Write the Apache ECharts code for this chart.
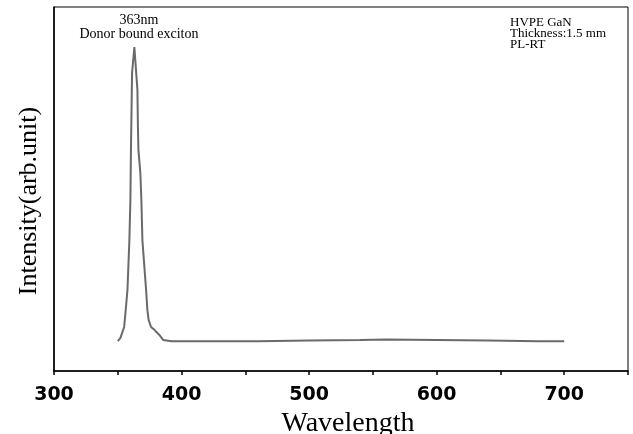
<!DOCTYPE html>
<html>
<head>
<meta charset="utf-8">
<script src="https://cdn.jsdelivr.net/npm/echarts@6/dist/echarts.min.js"></script>
<style>
html,body{margin:0;padding:0;background:#fff;}
#chart{width:633px;height:434px;}
</style>
</head>
<body>
<div id="chart"></div>
<script>
// Wavelength (nm)
var wavelength = [350, 352.1, 355, 356, 357.6, 359.1, 359.9, 360.3, 360.7, 361.2, 363,
  365.4, 365.8, 366.2, 367.7, 368.5, 369.3, 372.2, 373.2, 374.2, 376.1, 378.7, 380.3,
  382.6, 385.7, 392, 420, 460, 500, 540, 560, 600, 640, 680, 700];
// PL intensity (arb. unit)
var intensity = [8.2, 9.1, 12.1, 15.9, 22.3, 36, 47, 59.9, 69.8, 81.9, 89,
  77.2, 66.8, 60.7, 54.4, 47, 36, 22.3, 16.8, 14, 12.1, 11.3, 10.7,
  9.9, 8.5, 8.2, 8.15, 8.2, 8.35, 8.5, 8.62, 8.55, 8.4, 8.2, 8.15];
var xTicks = [300, 400, 500, 600, 700];
var peakNote = ['363nm', 'Donor bound exciton'];
var sampleNote = ['HVPE GaN', 'Thickness:1.5 mm', 'PL-RT'];

var pts = wavelength.map(function (w, i) { return [w, intensity[i]]; });

var chart = echarts.init(document.getElementById('chart'), null, {renderer: 'canvas'});
chart.setOption({
  animation: false,
  backgroundColor: '#fff',
  grid: {left: 54, right: 5, top: 7, bottom: 63, show: true, borderColor: '#000', borderWidth: 1,
    containLabel: false, outerBoundsMode: 'none'},
  xAxis: {
    type: 'value', min: 300, max: 750, interval: 50,
    name: 'Wavelength', nameLocation: 'middle', nameGap: 34,
    nameTextStyle: {fontFamily: 'Liberation Serif', fontSize: 28, color: '#000', padding: [0, 0, 0, 14]},
    axisLine: {show: true, lineStyle: {color: '#000', width: 1.5}},
    axisTick: {show: true, inside: false, length: 4, lineStyle: {color: '#000', width: 1.5}},
    axisLabel: {
      margin: 15, color: '#000', fontFamily: 'DejaVu Sans', fontWeight: 'bold', fontSize: 19,
      formatter: function (v) { return xTicks.indexOf(v) >= 0 ? String(v) : ''; }
    },
    splitLine: {show: false}
  },
  yAxis: {
    type: 'value', min: 0, max: 100,
    name: 'Intensity(arb.unit)', nameLocation: 'middle', nameGap: 12,
    nameTextStyle: {fontFamily: 'Liberation Serif', fontSize: 26, color: '#000', padding: [0, 24, 0, 0]},
    axisLine: {show: true, lineStyle: {color: '#000', width: 1.5}},
    axisTick: {show: false}, axisLabel: {show: false}, splitLine: {show: false}
  },
  series: [{
    type: 'line', data: pts, showSymbol: false, smooth: false,
    lineStyle: {color: '#6a6a6a', width: 2}
  }],
  graphic: [
    {type: 'text', x: 139, y: 13, style: {text: peakNote.join('\n'), textAlign: 'center', font: '14px "Liberation Serif"', fill: '#000', lineHeight: 14}},
    {type: 'text', x: 510, y: 17, style: {text: sampleNote.join('\n'), font: '13px "Liberation Serif"', fill: '#000', lineHeight: 11}}
  ]
});
</script>
</body>
</html>
